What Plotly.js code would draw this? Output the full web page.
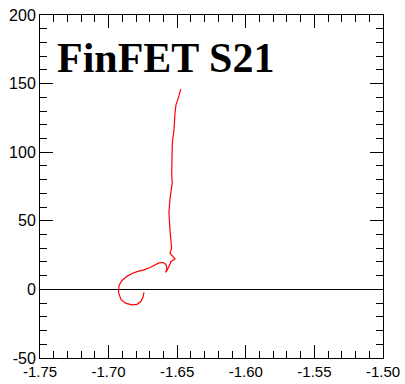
<!DOCTYPE html>
<html>
<head>
<meta charset="utf-8">
<script src="https://cdn.plot.ly/plotly-3.0.1.min.js"></script>
<style>html,body{margin:0;padding:0;background:#fff;}#chart{width:405px;height:384px;}</style>
</head>
<body>
<div id="chart"></div>
<script>
const chartTitle = "FinFET S21";
const xValues = [-1.6742,-1.6749,-1.6764,-1.6793,-1.6829,-1.6873,-1.6910,-1.6928,-1.6924,-1.6902,-1.6866,-1.6829,-1.6786,-1.6742,-1.6698,-1.6662,-1.6633,-1.6603,-1.6582,-1.6574,-1.6585,-1.6574,-1.6560,-1.6545,-1.6516,-1.6530,-1.6553,-1.6541,-1.6545,-1.6553,-1.6553,-1.6556,-1.6560,-1.6553,-1.6545,-1.6536,-1.6540,-1.6540,-1.6540,-1.6536,-1.6533,-1.6523,-1.6516,-1.6509,-1.6494,-1.6474];
const yValues = [-2.2,-5.8,-8.7,-10.9,-11.3,-10.2,-7.3,-2.2,2.9,6.5,9.5,11.6,13.1,14.2,16.0,17.8,19.3,19.6,18.2,15.3,12.4,13.8,16.7,20.4,22.2,24.0,26.5,29.8,34.2,38.8,43.6,48.7,56.0,65.5,72.7,77.8,83.6,89.7,96.9,105.5,109.1,116.4,128.7,134.5,138.9,146.0];
const xTickVals = [-1.75,-1.70,-1.65,-1.60,-1.55,-1.50];
const xTickText = ["-1.75","-1.70","-1.65","-1.60","-1.55","-1.50"];
const yTickVals = [-50,0,50,100,150,200];
const yTickText = ["-50","0","50","100","150","200"];

const axisCommon = {
  showline: true, linecolor: "#000", linewidth: 1, mirror: "allticks",
  ticks: "inside", ticklen: 13, tickwidth: 1, tickcolor: "#000",
  showgrid: false,
  tickfont: {family: "Liberation Sans, Arial, sans-serif", size: 15, color: "#000"},
  minor: {ticks: "inside", ticklen: 7, tickwidth: 1, tickcolor: "#000", showgrid: false}
};

const data = [{
  x: xValues, y: yValues, type: "scatter", mode: "lines",
  line: {color: "#ff0000", width: 1.2}, hoverinfo: "skip"
}];

const layout = {
  width: 405, height: 384,
  margin: {l: 40, r: 22, t: 15, b: 26},
  paper_bgcolor: "#fff", plot_bgcolor: "#fff",
  showlegend: false,
  xaxis: Object.assign({}, axisCommon, {
    range: [-1.75, -1.50], tickmode: "array", tickvals: xTickVals, ticktext: xTickText,
    zeroline: false,
    minor: Object.assign({}, axisCommon.minor, {dtick: 0.01, tick0: -1.75})
  }),
  yaxis: Object.assign({}, axisCommon, {
    range: [-50, 200], tickmode: "array", tickvals: yTickVals, ticktext: yTickText,
    zeroline: true, zerolinecolor: "#000", zerolinewidth: 1,
    tickfont: {family: "Liberation Sans, Arial, sans-serif", size: 16, color: "#000"},
    minor: Object.assign({}, axisCommon.minor, {dtick: 10, tick0: -50})
  }),
  annotations: [{
    text: "<b>" + chartTitle + "</b>", xref: "paper", yref: "paper",
    x: 0.043, y: 0.948, xanchor: "left", yanchor: "top", showarrow: false,
    font: {family: "Liberation Serif, Times New Roman, serif", size: 42, color: "#000"}
  }]
};

Plotly.newPlot("chart", data, layout, {staticPlot: true, displayModeBar: false});
</script>
</body>
</html>
